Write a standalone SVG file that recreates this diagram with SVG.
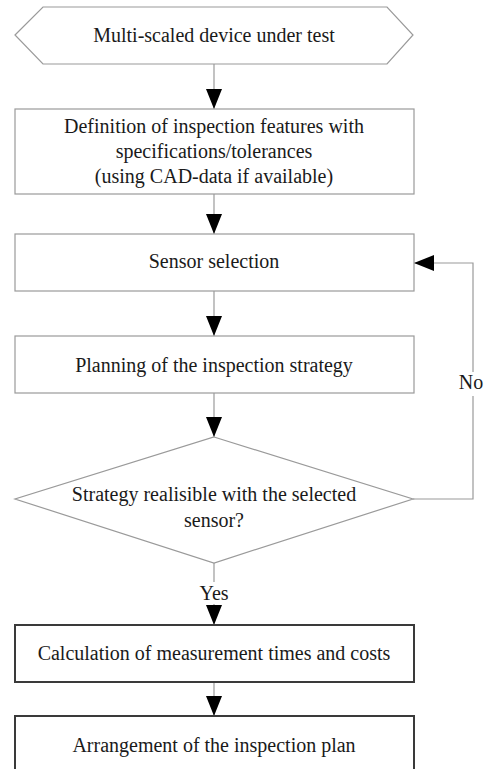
<svg xmlns="http://www.w3.org/2000/svg" width="485" height="769" viewBox="0 0 485 769">
<style>
.s{fill:#fff;stroke:#9a9a9a;stroke-width:1.2}
.d{fill:#fff;stroke:#3a3a3a;stroke-width:2}
.t{font-family:"Liberation Serif","Times New Roman",serif;font-size:20px;fill:#1a1a1a;text-anchor:middle}
.c{fill:none;stroke:#9a9a9a;stroke-width:1.2}
</style>
<defs>
<marker id="ah" markerUnits="userSpaceOnUse" markerWidth="20" markerHeight="16" refX="20" refY="8" orient="auto">
<path d="M0,0 L20,8 L0,16 Z" fill="#000"/>
</marker>
</defs>
<rect width="485" height="769" fill="#fff"/>
<g id="connectors">
<path class="c" d="M214,64 V109" marker-end="url(#ah)"/>
<path class="c" d="M214,194 V234" marker-end="url(#ah)"/>
<path class="c" d="M214,291 V336" marker-end="url(#ah)"/>
<path class="c" d="M214,393 V437" marker-end="url(#ah)"/>
<path class="c" d="M214,563 V582"/>
<path class="c" d="M214,604 V625" marker-end="url(#ah)"/>
<path class="c" d="M214,682 V716" marker-end="url(#ah)"/>
<path class="c" d="M413,499 H473 V396"/>
<path class="c" d="M473,372 V263 H414" marker-end="url(#ah)"/>
<text class="t" x="214" y="600">Yes</text>
<text class="t" x="471" y="389">No</text>
</g>
<g id="n1">
<polygon class="s" points="15,35 43,7 387,7 413,35 387,64 43,64"/>
<text class="t" x="214" y="42">Multi-scaled device under test</text>
</g>
<g id="n2">
<rect class="s" x="15" y="109" width="399" height="85"/>
<text class="t" x="214" y="133">Definition of inspection features with</text>
<text class="t" x="214" y="158">specifications/tolerances</text>
<text class="t" x="214" y="183">(using CAD-data if available)</text>
</g>
<g id="n3">
<rect class="s" x="15" y="234" width="399" height="57"/>
<text class="t" x="214" y="268">Sensor selection</text>
</g>
<g id="n4">
<rect class="s" x="15" y="336" width="399" height="57"/>
<text class="t" x="214" y="372">Planning of the inspection strategy</text>
</g>
<g id="n5">
<polygon class="s" points="214,437 413,499 214,563 15,499"/>
<text class="t" x="214" y="501">Strategy realisible with the selected</text>
<text class="t" x="214" y="527">sensor?</text>
</g>
<g id="n6">
<rect class="d" x="15" y="625" width="399" height="57"/>
<text class="t" x="214" y="660">Calculation of measurement times and costs</text>
</g>
<g id="n7">
<rect class="d" x="15" y="716" width="399" height="70"/>
<text class="t" x="214" y="752">Arrangement of the inspection plan</text>
</g>
</svg>
